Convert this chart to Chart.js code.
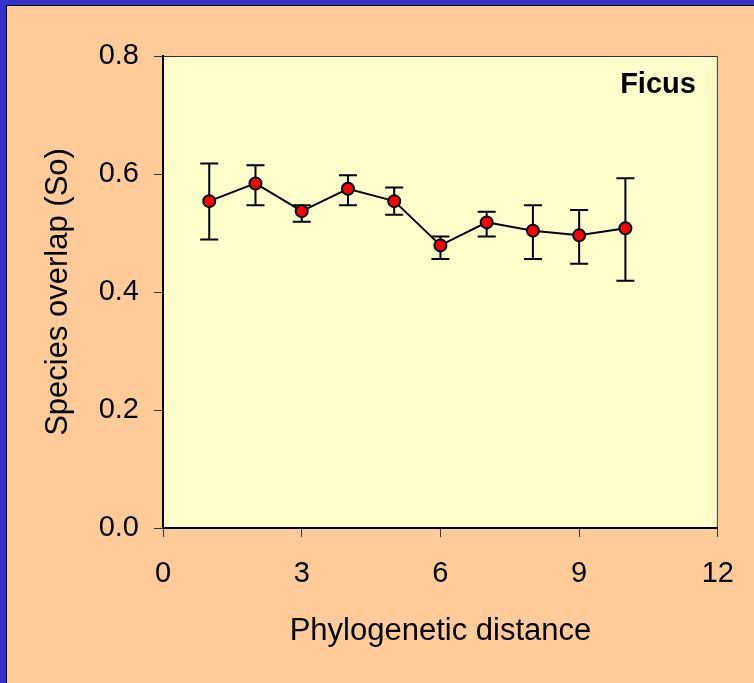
<!DOCTYPE html>
<html>
<head>
<meta charset="utf-8">
<script src="https://cdn.jsdelivr.net/npm/chart.js@4.4.1/dist/chart.umd.min.js"></script>
<style>
  html, body { margin: 0; padding: 0; background: #FFCC99; }
  #wrap { position: relative; width: 754px; height: 683px; overflow: hidden; }
  #c { position: absolute; left: 0; top: 0; }
  .bl { position: absolute; background: #3333CC; }
  .bk { position: absolute; background: #000; }
</style>
</head>
<body>
<div id="wrap">
  <canvas id="c" width="754" height="683"></canvas>
  <div class="bl" style="left:0;top:0;width:754px;height:5px;"></div>
  <div class="bl" style="left:0;top:0;width:6px;height:683px;"></div>
  <div class="bk" style="left:6px;top:5px;width:748px;height:1px;"></div>
  <div class="bk" style="left:6px;top:5px;width:1px;height:678px;"></div>
</div>
<script>
// ---- data ----
const distances = [1, 2, 3, 4, 5, 6, 7, 8, 9, 10];
const overlapMean = [0.554, 0.584, 0.537, 0.575, 0.554, 0.479, 0.518, 0.504, 0.496, 0.508];
const overlapUpper = [0.618, 0.615, 0.547, 0.598, 0.577, 0.494, 0.536, 0.547, 0.539, 0.593];
const overlapLower = [0.489, 0.547, 0.519, 0.547, 0.531, 0.456, 0.494, 0.456, 0.448, 0.419];
const xTickValues = [0, 3, 6, 9, 12];
const yTickValues = [0.0, 0.2, 0.4, 0.6, 0.8];
const panelLabel = 'Ficus';
const xTitle = 'Phylogenetic distance';
const yTitle = 'Species overlap (So)';

const FONT = '"Liberation Sans", Arial, sans-serif';

const plotBg = {
  id: 'plotBg',
  beforeDraw(chart) {
    const {ctx, chartArea: a} = chart;
    ctx.save();
    ctx.fillStyle = '#FFFFCC';
    ctx.fillRect(a.left, a.top, a.right - a.left, a.bottom - a.top);
    ctx.strokeStyle = '#333333';
    ctx.lineWidth = 1;
    ctx.beginPath();
    ctx.moveTo(a.left, a.top + 0.5);
    ctx.lineTo(a.right - 0.5, a.top + 0.5);
    ctx.lineTo(a.right - 0.5, a.bottom);
    ctx.stroke();
    ctx.restore();
  }
};

const errorBars = {
  id: 'errorBars',
  beforeDatasetsDraw(chart) {
    const {ctx, scales: {x, y}} = chart;
    ctx.save();
    ctx.strokeStyle = '#000';
    ctx.lineWidth = 2;
    const cap = 9;
    distances.forEach((d, i) => {
      const px = x.getPixelForValue(d);
      const pt = y.getPixelForValue(overlapUpper[i]);
      const pb = y.getPixelForValue(overlapLower[i]);
      ctx.beginPath();
      ctx.moveTo(px, pt); ctx.lineTo(px, pb);
      ctx.moveTo(px - cap, pt); ctx.lineTo(px + cap, pt);
      ctx.moveTo(px - cap, pb); ctx.lineTo(px + cap, pb);
      ctx.stroke();
    });
    ctx.restore();
  }
};

const labelPlugin = {
  id: 'panelLabel',
  afterDatasetsDraw(chart) {
    const {ctx, chartArea: a} = chart;
    ctx.save();
    ctx.font = 'bold 29px ' + FONT;
    ctx.fillStyle = '#000';
    ctx.textAlign = 'right';
    ctx.textBaseline = 'alphabetic';
    ctx.fillText(panelLabel, a.right - 22, a.top + 37);
    ctx.restore();
  }
};

new Chart(document.getElementById('c'), {
  type: 'line',
  data: {
    datasets: [{
      data: distances.map((d, i) => ({x: d, y: overlapMean[i]})),
      borderColor: '#000',
      borderWidth: 2,
      pointBackgroundColor: '#FF0000',
      pointBorderColor: '#000',
      pointBorderWidth: 2,
      pointRadius: 6,
      tension: 0
    }]
  },
  options: {
    responsive: false,
    animation: false,
    events: [],
    layout: { padding: { left: 0, top: 56, right: 36, bottom: 0 } },
    plugins: { legend: { display: false }, tooltip: { enabled: false } },
    scales: {
      x: {
        type: 'linear',
        min: 0, max: 12,
        afterBuildTicks(s) { s.ticks = xTickValues.map(v => ({value: v})); },
        afterFit(s) { s.height = 155; },
        border: { display: true, color: '#000', width: 2 },
        grid: { drawOnChartArea: false, drawTicks: true, tickLength: 9, color: '#333', lineWidth: 1 },
        ticks: { color: '#000', font: { family: FONT, size: 29 }, padding: 20, maxRotation: 0,
                 callback: v => String(v) },
        title: { display: true, text: xTitle, color: '#000',
                 font: { family: FONT, size: 31 }, padding: { top: 0, bottom: 33 } }
      },
      y: {
        type: 'linear',
        min: 0, max: 0.8,
        afterBuildTicks(s) { s.ticks = yTickValues.map(v => ({value: v})); },
        afterFit(s) { s.width = 163; },
        border: { display: true, color: '#000', width: 2 },
        grid: { drawOnChartArea: false, drawTicks: true, tickLength: 9, color: '#333', lineWidth: 1 },
        ticks: { color: '#000', font: { family: FONT, size: 29 }, padding: 15,
                 callback: v => Number(v).toFixed(1) },
        title: { display: true, text: yTitle, color: '#000',
                 font: { family: FONT, size: 31 }, padding: { top: 40, bottom: 0 } }
      }
    }
  },
  plugins: [plotBg, errorBars, labelPlugin]
});
</script>
</body>
</html>
